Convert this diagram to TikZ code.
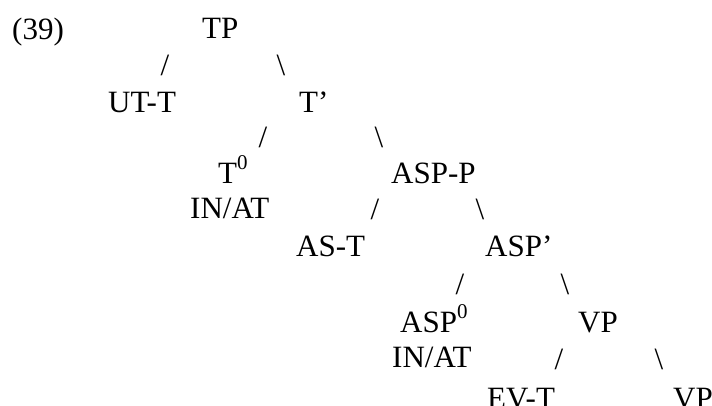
\documentclass[tikz,border=0pt]{standalone}
\usepackage{fontspec}
\setmainfont{Liberation Serif}
\usetikzlibrary{positioning}

\begin{document}
\begin{tikzpicture}[x=1pt,y=-1pt,
  lbl/.style={inner sep=0pt,anchor=base west,font=\fontsize{31}{36}\selectfont},
  brl/.style={inner sep=0pt,anchor=base,font=\fontsize{31}{36}\selectfont}]
  \useasboundingbox (0,0) rectangle (712,405);
  \node[lbl] (ex) at (12,39) {(39)};
  \node[lbl] (tp) at (202,38) {TP};
  \node[brl] (sa) at (165,75) {/};
  \node[brl] (ba) at (281,75) {\textbackslash};
  \node[lbl] (utt) at (108,112) {UT-T};
  \node[lbl] (tbar) at (299,112) {T'};
  \node[brl] (sb) at (263,147) {/};
  \node[brl] (bb) at (379,147) {\textbackslash};
  \node[lbl] (tzero) at (218,183) {T\raisebox{14pt}{\fontsize{21}{21}\selectfont 0}};
  \node[lbl] (aspp) at (391,183) {ASP-P};
  \node[lbl] (inata) at (190,218) {IN/AT};
  \node[brl] (sc) at (375,219) {/};
  \node[brl] (bc) at (480,219) {\textbackslash};
  \node[lbl] (ast) at (296,256) {AS-T};
  \node[lbl] (aspbar) at (485,256) {ASP'};
  \node[brl] (sd) at (460,294) {/};
  \node[brl] (bd) at (565,294) {\textbackslash};
  \node[lbl] (aspzero) at (400,332) {ASP\raisebox{14pt}{\fontsize{21}{21}\selectfont 0}};
  \node[lbl] (vpa) at (578,332) {VP};
  \node[lbl] (inatb) at (392,367) {IN/AT};
  \node[brl] (se) at (559,369) {/};
  \node[brl] (be) at (659,369) {\textbackslash};
  \node[lbl] (evt) at (487,408) {EV-T};
  \node[lbl] (vpb) at (673,408) {VP};
\end{tikzpicture}
\end{document}
